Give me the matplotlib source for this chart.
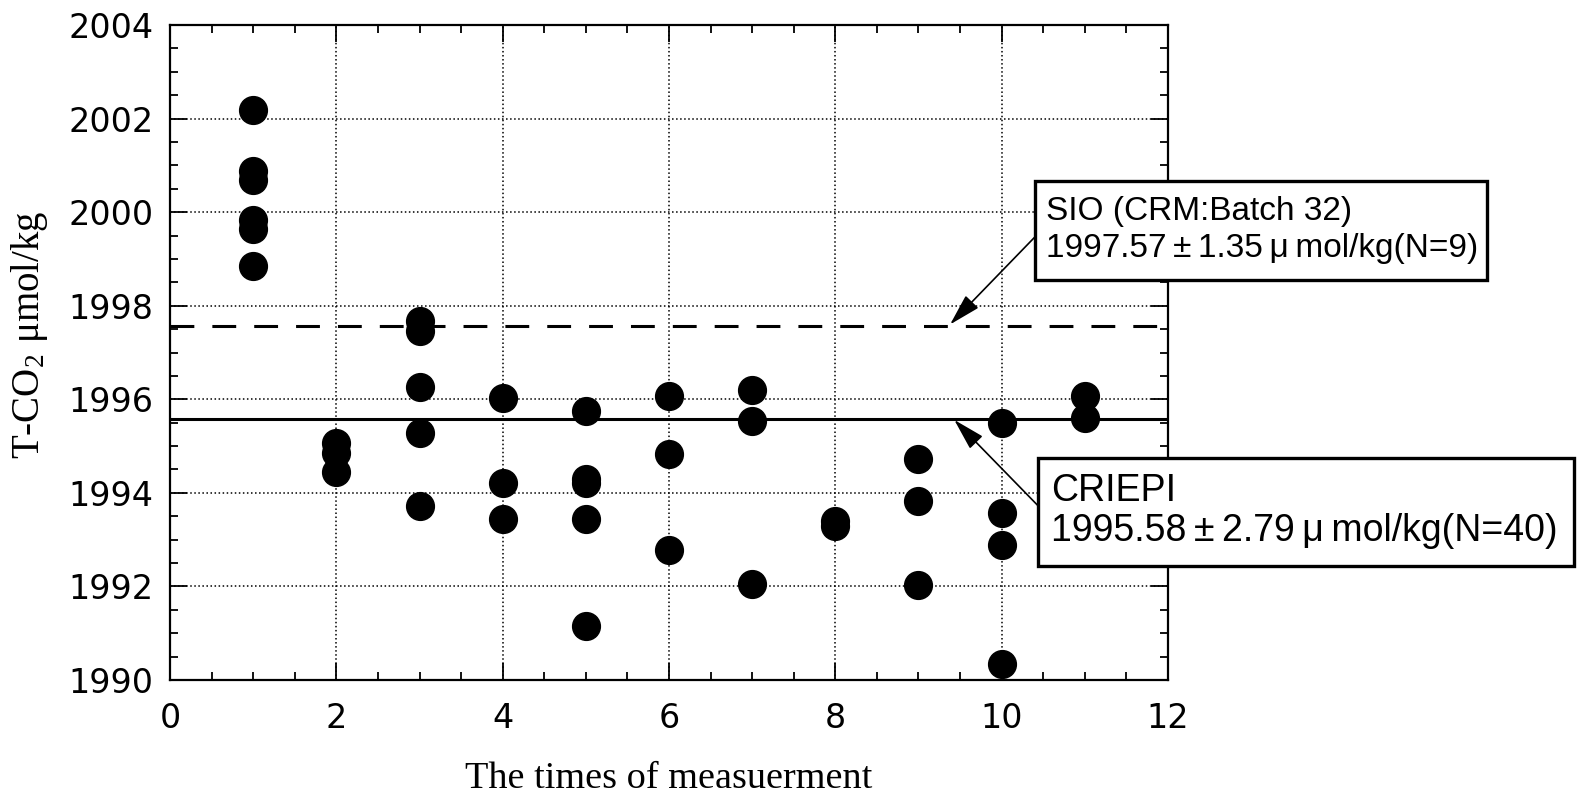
import matplotlib
matplotlib.use('Agg')
import matplotlib.pyplot as plt
from matplotlib.patches import Rectangle
from matplotlib.ticker import MultipleLocator

run_1 = [2002.18, 2000.89, 2000.69, 1999.83, 1999.65, 1998.84]
run_2 = [1995.07, 1994.86, 1994.44]
run_3 = [1997.68, 1997.45, 1996.26, 1995.28, 1993.71]
run_4 = [1996.02, 1994.21, 1993.45]
run_5 = [1995.76, 1994.30, 1994.20, 1993.45, 1991.15]
run_6 = [1996.08, 1994.84, 1992.78]
run_7 = [1996.19, 1995.54, 1992.06]
run_8 = [1993.40, 1993.30]
run_9 = [1994.72, 1993.82, 1992.04]
run_10 = [1995.49, 1993.58, 1992.88, 1990.35]
run_11 = [1996.08, 1995.60]
runs = [run_1, run_2, run_3, run_4, run_5, run_6, run_7, run_8, run_9, run_10, run_11]

sio_mean = 1997.57
criepi_mean = 1995.58
ts = '\u2009'
sio_text = f'SIO (CRM:Batch 32)\n1997.57{ts}\u00b1{ts}1.35{ts}\u03bc{ts}mol/kg(N=9)'
criepi_text = f'CRIEPI\n1995.58{ts}\u00b1{ts}2.79{ts}\u03bc{ts}mol/kg(N=40)'

W, H = 1580, 796


def main():
    plt.rcParams['mathtext.fontset'] = 'stix'
    fig = plt.figure(figsize=(W / 100, H / 100), dpi=100)
    ax = fig.add_axes([170 / W, 1 - 680 / H, 998 / W, 655 / H])

    for i, vals in enumerate(runs, start=1):
        ax.plot([i] * len(vals), vals, 'o', color='black', ms=20, zorder=3)

    ax.axhline(sio_mean, color='black', lw=2.2, dashes=(7.8, 5.9), zorder=2)
    ax.axhline(criepi_mean, color='black', lw=2.2, zorder=2)

    ax.set_xlim(0, 12)
    ax.set_ylim(1990, 2004)
    ax.xaxis.set_major_locator(MultipleLocator(2))
    ax.xaxis.set_minor_locator(MultipleLocator(0.5))
    ax.yaxis.set_major_locator(MultipleLocator(2))
    ax.yaxis.set_minor_locator(MultipleLocator(0.5))
    ax.tick_params(which='both', direction='in', top=True, right=True, width=1.3)
    ax.tick_params(which='major', length=12, labelsize=24, pad=12)
    ax.tick_params(which='minor', length=5.5)
    ax.tick_params(axis='x', which='major', pad=16)
    ax.grid(True, which='major', ls=':', color='black', lw=1.1)
    for s in ax.spines.values():
        s.set_linewidth(1.6)

    ax.set_xlabel('The times of measuerment', family='Liberation Serif', fontsize=27.5)
    ax.set_ylabel('T-CO$_\\mathregular{2}$ \u03bcmol/kg', family='Liberation Serif', fontsize=28)
    ax.xaxis.set_label_coords(0.5, -0.125)
    ax.yaxis.set_label_coords(-0.12, 0.527)

    # annotation boxes (figure pixel layout)
    for (x0, y0, x1, y1) in [(1035, 181, 1487, 280), (1038, 458, 1574, 566)]:
        fig.patches.append(Rectangle((x0 / W, 1 - y1 / H), (x1 - x0) / W, (y1 - y0) / H,
                                     transform=fig.transFigure, fill=True, fc='white',
                                     ec='black', lw=2.4, zorder=5))
    fig.text(1046 / W, 1 - 230 / H, sio_text, ha='left', va='center',
             family=['Liberation Sans', 'DejaVu Sans'], fontsize=24, linespacing=1.25, zorder=6)
    fig.text(1051 / W, 1 - 511 / H, criepi_text, ha='left', va='center',
             family=['Liberation Sans', 'DejaVu Sans'], fontsize=27, linespacing=1.15, zorder=6)

    arrow = dict(arrowstyle='-|>,head_length=0.9,head_width=0.25', color='black', lw=1.2,
                 shrinkA=0, shrinkB=0, mutation_scale=22)
    ax.annotate('', xy=(9.38, 1997.6), xytext=(10.40, 1999.47), arrowprops=arrow,
                annotation_clip=False)
    ax.annotate('', xy=(9.43, 1995.56), xytext=(10.44, 1993.72), arrowprops=arrow,
                annotation_clip=False)

    fig.savefig('out.png', dpi=100)


if __name__ == '__main__':
    main()
